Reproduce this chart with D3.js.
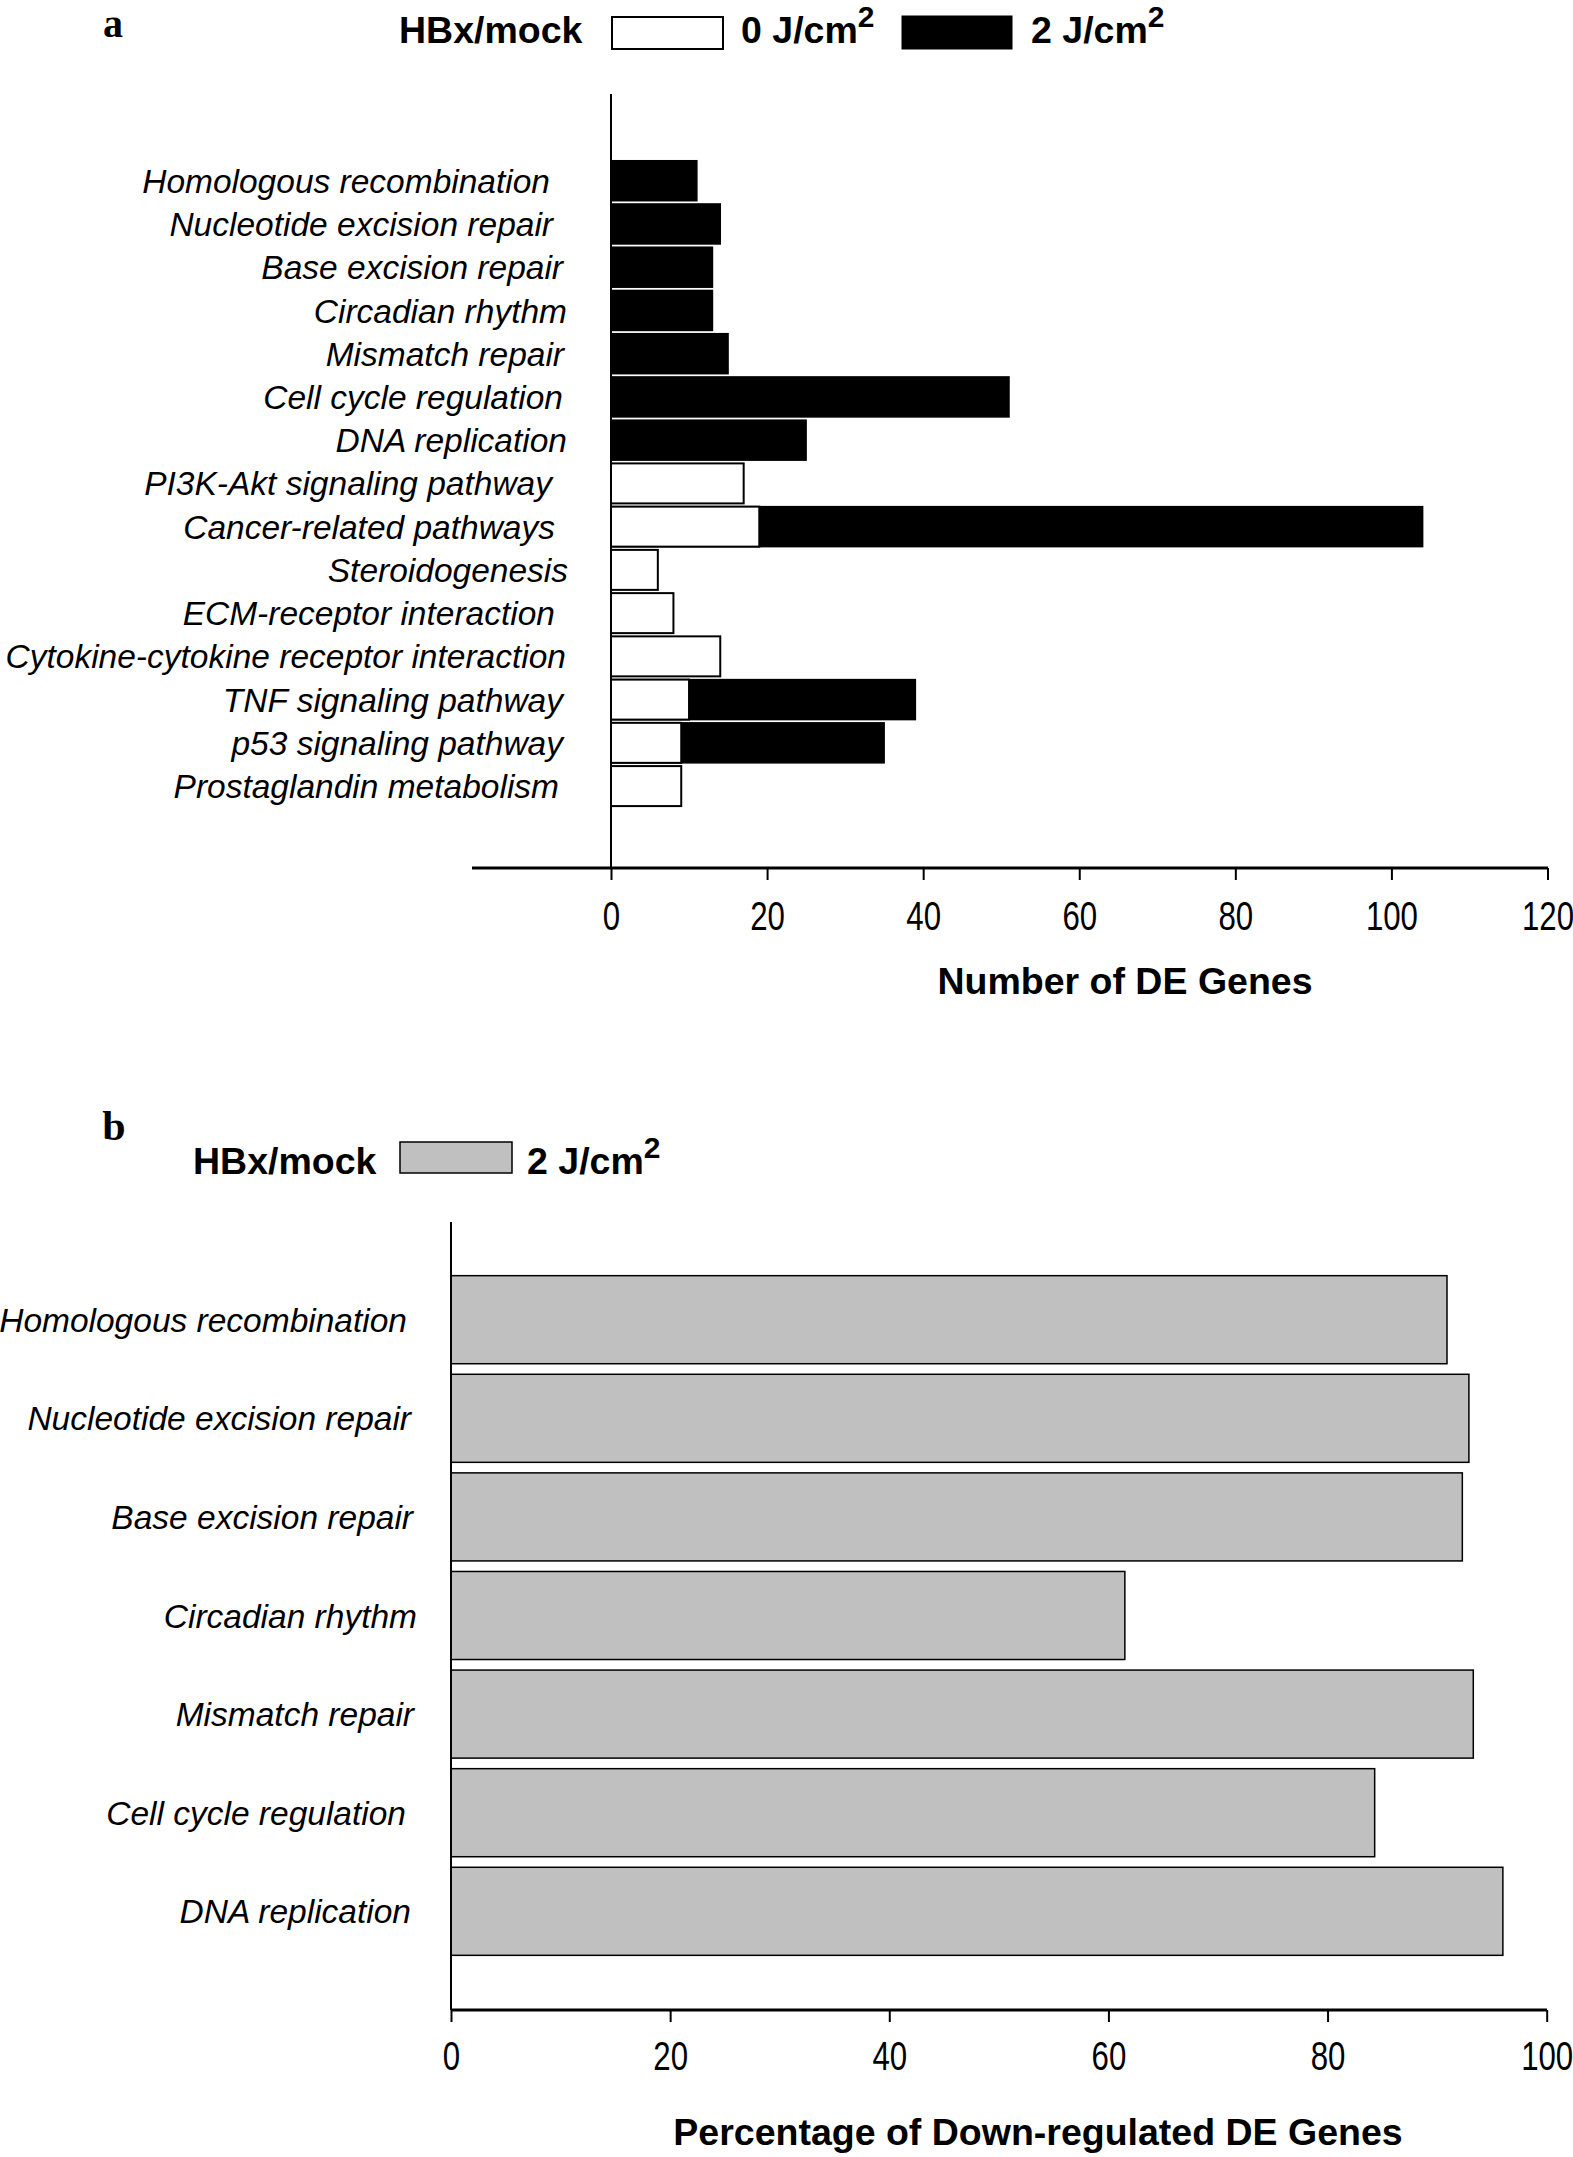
<!DOCTYPE html>
<html>
<head>
<meta charset="utf-8">
<script src="https://cdn.jsdelivr.net/npm/d3@7"></script>
<style>
  html, body { margin: 0; padding: 0; background: #fff; }
  svg { display: block; }
</style>
</head>
<body>
<script>
// ---------- DATA ----------
const categoriesA = [
  "Homologous recombination",
  "Nucleotide excision repair",
  "Base excision repair",
  "Circadian rhythm",
  "Mismatch repair",
  "Cell cycle regulation",
  "DNA replication",
  "PI3K-Akt signaling pathway",
  "Cancer-related pathways",
  "Steroidogenesis",
  "ECM-receptor interaction",
  "Cytokine-cytokine receptor interaction",
  "TNF signaling pathway",
  "p53 signaling pathway",
  "Prostaglandin metabolism"
];
// HBx/mock, 0 J/cm2 (white bars)
const values0J = [0, 0, 0, 0, 0, 0, 0, 17, 19, 6, 8, 14, 10, 9, 9];
// HBx/mock, 2 J/cm2 (black bars)
const values2J = [11, 14, 13, 13, 15, 51, 25, 0, 104, 0, 0, 0, 39, 35, 0];
const ticksA = [0, 20, 40, 60, 80, 100, 120];

const categoriesB = [
  "Homologous recombination",
  "Nucleotide excision repair",
  "Base excision repair",
  "Circadian rhythm",
  "Mismatch repair",
  "Cell cycle regulation",
  "DNA replication"
];
// Percentage of down-regulated DE genes (2 J/cm2)
const percentDown = [90.9, 92.9, 92.3, 61.5, 93.3, 84.3, 96.0];
const ticksB = [0, 20, 40, 60, 80, 100];

// ---------- LAYOUT ----------
const W = 1573, H = 2157;
const sans = "'Liberation Sans', Arial, Helvetica, sans-serif";
const serif = "'Liberation Serif', 'Times New Roman', serif";
// right ends of the (hand-placed) category labels
const labelEndA = [550, 553, 563, 567, 564, 563, 567, 552, 555, 568, 555, 566, 563, 563, 559];
const labelEndB = [407, 411, 413, 417, 414, 406, 411];

const svg = d3.select("body").append("svg")
  .attr("width", W).attr("height", H)
  .attr("viewBox", `0 0 ${W} ${H}`);

function styleTicks(ax) {
  ax.select(".domain").remove();
  ax.selectAll(".tick line").attr("stroke", "#000").attr("stroke-width", 2);
  ax.selectAll(".tick text")
    .style("font-family", sans).style("font-size", "40px").attr("fill", "#000")
    .attr("transform", "scale(0.78,1)");
}

// ===== Panel a =====
const xA = d3.scaleLinear().domain([0, 120]).range([611, 1547.5]);
const yA = d3.scaleBand().domain(categoriesA).range([159.1, 807.7])
  .paddingInner(0.075).paddingOuter(0.0375);

const gA = svg.append("g");

gA.append("text").attr("x", 113).attr("y", 37)
  .attr("text-anchor", "middle")
  .style("font-family", serif).style("font-weight", "bold").style("font-size", "40px")
  .text("a");

const legA = gA.append("g").style("font-family", sans).style("font-weight", "bold");
legA.append("text").attr("x", 399).attr("y", 43).style("font-size", "37.5px").text("HBx/mock");
legA.append("rect").attr("x", 612).attr("y", 17).attr("width", 111).attr("height", 32)
  .attr("fill", "#fff").attr("stroke", "#000").attr("stroke-width", 2);
const t0 = legA.append("text").attr("x", 741).attr("y", 43).style("font-size", "37.5px");
t0.append("tspan").text("0 J/cm");
t0.append("tspan").attr("dy", -16).style("font-size", "30px").text("2");
legA.append("rect").attr("x", 902).attr("y", 16).attr("width", 110).attr("height", 33)
  .attr("fill", "#000").attr("stroke", "#000").attr("stroke-width", 1);
const t2 = legA.append("text").attr("x", 1031).attr("y", 43).style("font-size", "37.5px");
t2.append("tspan").text("2 J/cm");
t2.append("tspan").attr("dy", -16).style("font-size", "30px").text("2");

// bars: 2 J/cm2 (black) behind, 0 J/cm2 (white) in front
const rowsA = categoriesA.map((c, i) => ({ c, v0: values0J[i], v2: values2J[i] }));
gA.append("g").selectAll("rect").data(rowsA.filter(d => d.v2 > 0)).join("rect")
  .attr("x", xA(0)).attr("y", d => yA(d.c))
  .attr("width", d => xA(d.v2) - xA(0)).attr("height", yA.bandwidth())
  .attr("fill", "#000").attr("stroke", "#000").attr("stroke-width", 1.5);
gA.append("g").selectAll("rect").data(rowsA.filter(d => d.v0 > 0)).join("rect")
  .attr("x", xA(0)).attr("y", d => yA(d.c))
  .attr("width", d => xA(d.v0) - xA(0)).attr("height", yA.bandwidth())
  .attr("fill", "#fff").attr("stroke", "#000").attr("stroke-width", 2);

gA.append("g").selectAll("text").data(categoriesA).join("text")
  .attr("x", (d, i) => labelEndA[i]).attr("y", d => yA(d) + yA.bandwidth() / 2)
  .attr("dy", "0.36em").attr("text-anchor", "end")
  .style("font-family", sans).style("font-style", "italic").style("font-size", "33.5px")
  .text(d => d);

gA.append("line").attr("x1", 611).attr("x2", 611).attr("y1", 94).attr("y2", 868)
  .attr("stroke", "#000").attr("stroke-width", 2);

const axA = gA.append("g").attr("transform", "translate(0,868)")
  .call(d3.axisBottom(xA).tickValues(ticksA).tickSize(12).tickPadding(22).tickFormat(d3.format("d")));
styleTicks(axA);
gA.append("line").attr("x1", 472).attr("x2", 1548).attr("y1", 868).attr("y2", 868)
  .attr("stroke", "#000").attr("stroke-width", 3);

gA.append("text").attr("x", 1125).attr("y", 994).attr("text-anchor", "middle")
  .style("font-family", sans).style("font-weight", "bold").style("font-size", "37.5px")
  .text("Number of DE Genes");

// ===== Panel b =====
const xB = d3.scaleLinear().domain([0, 100]).range([451, 1546.7]);
const yB = d3.scaleBand().domain(categoriesB).range([1270.4, 1960.6])
  .paddingInner(0.107).paddingOuter(0.0535);

const gB = svg.append("g");

gB.append("text").attr("x", 114).attr("y", 1140)
  .attr("text-anchor", "middle")
  .style("font-family", serif).style("font-weight", "bold").style("font-size", "42px")
  .text("b");

const legB = gB.append("g").style("font-family", sans).style("font-weight", "bold");
legB.append("text").attr("x", 193).attr("y", 1174).style("font-size", "37.5px").text("HBx/mock");
legB.append("rect").attr("x", 400).attr("y", 1142).attr("width", 112).attr("height", 31)
  .attr("fill", "#c0c0c0").attr("stroke", "#000").attr("stroke-width", 1.5);
const tb = legB.append("text").attr("x", 527).attr("y", 1174).style("font-size", "37.5px");
tb.append("tspan").text("2 J/cm");
tb.append("tspan").attr("dy", -16).style("font-size", "30px").text("2");

const rowsB = categoriesB.map((c, i) => ({ c, v: percentDown[i] }));
gB.append("g").selectAll("rect").data(rowsB).join("rect")
  .attr("x", xB(0)).attr("y", d => yB(d.c))
  .attr("width", d => xB(d.v) - xB(0)).attr("height", yB.bandwidth())
  .attr("fill", "#c0c0c0").attr("stroke", "#000").attr("stroke-width", 1.5);

gB.append("g").selectAll("text").data(categoriesB).join("text")
  .attr("x", (d, i) => labelEndB[i]).attr("y", d => yB(d) + yB.bandwidth() / 2)
  .attr("dy", "0.36em").attr("text-anchor", "end")
  .style("font-family", sans).style("font-style", "italic").style("font-size", "33.5px")
  .text(d => d);

gB.append("line").attr("x1", 451).attr("x2", 451).attr("y1", 1222).attr("y2", 2010)
  .attr("stroke", "#000").attr("stroke-width", 2);

const axB = gB.append("g").attr("transform", "translate(0,2010)")
  .call(d3.axisBottom(xB).tickValues(ticksB).tickSize(12).tickPadding(20).tickFormat(d3.format("d")));
styleTicks(axB);
gB.append("line").attr("x1", 451).attr("x2", 1547).attr("y1", 2010).attr("y2", 2010)
  .attr("stroke", "#000").attr("stroke-width", 3);

gB.append("text").attr("x", 1038).attr("y", 2145).attr("text-anchor", "middle")
  .style("font-family", sans).style("font-weight", "bold").style("font-size", "37.5px")
  .text("Percentage of Down-regulated DE Genes");
</script>
</body>
</html>
